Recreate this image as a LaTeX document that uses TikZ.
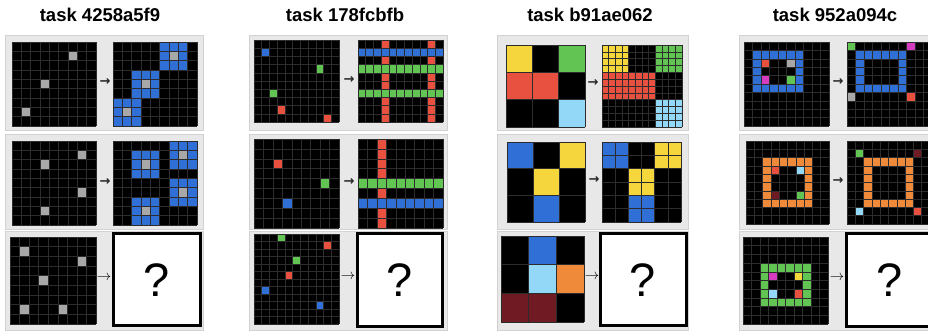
\documentclass[tikz,border=0pt]{standalone}
\usepackage{fontspec}
\newfontfamily\titlefont{Liberation Sans}
\newfontfamily\arrowfont{DejaVu Sans}
\definecolor{arcblue}{HTML}{2F6FD6}
\definecolor{arcred}{HTML}{E8503F}
\definecolor{arcgreen}{HTML}{62C452}
\definecolor{arcyellow}{HTML}{F5D63D}
\definecolor{arcgray}{HTML}{A8A8A8}
\definecolor{arclblue}{HTML}{94D8F7}
\definecolor{arcorange}{HTML}{EE8A3A}
\definecolor{arcmaroon}{HTML}{701A24}
\definecolor{arcmagenta}{HTML}{D63CC0}
\definecolor{panelfill}{HTML}{E8E8E8}
\definecolor{panelline}{HTML}{D2D2D2}
\definecolor{gridline}{HTML}{2C2C2C}
\tikzset{
  gl/.style={draw=gridline, line width=0.5pt},
  panelbox/.style={fill=panelfill, draw=panelline, line width=0.6pt},
  qbox/.style={fill=white, draw=black, line width=2.6pt},
  qmark/.style={font=\titlefont\fontsize{47}{47}\selectfont, text=black},
  tasktitle/.style={font=\titlefont\bfseries\fontsize{18.5}{19}\selectfont, text=black},
  bigarrow/.style={font=\arrowfont\bfseries\fontsize{13}{13}\selectfont, text=black!85, inner sep=0pt},
  smallarrow/.style={font=\fontsize{14}{14}\selectfont, text=black, inner sep=0pt}
}
% x y width height ncols nrows {col/row/w/h/color,...}
\newcommand{\arcgrid}[7]{%
  \pgfmathsetmacro\arccw{#3/#5}%
  \pgfmathsetmacro\arcch{#4/#6}%
  \fill[black] (#1,#2) rectangle ++(#3,#4);
  \foreach \cc/\rr/\ww/\hh/\kk in {#7}{%
    \fill[\kk] ({#1+\cc*\arccw},{#2+\rr*\arcch}) rectangle ++({\ww*\arccw},{\hh*\arcch});}
  \foreach \ii in {0,...,#5}{\draw[gl] ({#1+\ii*\arccw},#2) -- ++(0,#4);}
  \foreach \jj in {0,...,#6}{\draw[gl] (#1,{#2+\jj*\arcch}) -- ++(#3,0);}
}
\begin{document}
\begin{tikzpicture}[x=1pt,y=-1pt]
\useasboundingbox (0,0) rectangle (928,331);
\fill[white] (0,0) rectangle (928,331);

% titles
\node[tasktitle] (t1) at (100,15) {task 4258a5f9};
\node[tasktitle] (t2) at (345,15) {task 178fcbfb};
\node[tasktitle] (t3) at (590,15) {task b91ae062};
\node[tasktitle] (t4) at (835,15) {task 952a094c};

% panels
\foreach \xa/\xb in {5/203, 249/447, 497/688, 739/935}{
  \draw[panelbox] (\xa,35) rectangle (\xb,130);
  \draw[panelbox] (\xa,134) rectangle (\xb,229);
  \draw[panelbox] (\xa,231) rectangle (\xb,330);
}

% ---------------- task 4258a5f9 ----------------
\arcgrid{12}{42}{84}{84}{9}{9}{6/1/1/1/arcgray, 3/4/1/1/arcgray, 1/7/1/1/arcgray}
\arcgrid{113}{42}{84}{84}{9}{9}{5/0/3/3/arcblue, 6/1/1/1/arcgray, 2/3/3/3/arcblue, 3/4/1/1/arcgray, 0/6/3/3/arcblue, 1/7/1/1/arcgray}
\node[bigarrow] (a11) at (105,82) {→};

\arcgrid{12}{141}{84}{84}{9}{9}{7/1/1/1/arcgray, 3/2/1/1/arcgray, 7/5/1/1/arcgray, 3/7/1/1/arcgray}
\arcgrid{113}{141}{84}{84}{9}{9}{2/1/3/3/arcblue, 3/2/1/1/arcgray, 6/0/3/3/arcblue, 7/1/1/1/arcgray, 6/4/3/3/arcblue, 7/5/1/1/arcgray, 2/6/3/3/arcblue, 3/7/1/1/arcgray}
\node[bigarrow] (a12) at (105,182) {→};

\arcgrid{10}{237}{86}{87}{9}{9}{1/1/1/1/arcgray, 7/2/1/1/arcgray, 3/4/1/1/arcgray, 1/7/1/1/arcgray, 5/7/1/1/arcgray}
\draw[qbox] (113.5,233.5) rectangle (200.5,325.5);
\node[qmark] (q1) at (157,280) {?};
\node[smallarrow] (a13) at (104,278) {$\rightarrow$};

% ---------------- task 178fcbfb ----------------
\arcgrid{254}{40}{85}{82}{11}{10}{1/1/1/1/arcblue, 8/3/1/1/arcgreen, 2/6/1/1/arcgreen, 3/8/1/1/arcred, 9/9/1/1/arcred}
\arcgrid{358}{40}{85}{82}{11}{10}{3/0/1/10/arcred, 9/0/1/10/arcred, 0/1/11/1/arcblue, 0/3/11/1/arcgreen, 0/6/11/1/arcgreen}
\node[bigarrow] (a21) at (349,80) {→};

\arcgrid{254}{139}{85}{89}{9}{9}{2/2/1/1/arcred, 7/4/1/1/arcgreen, 3/6/1/1/arcblue}
\arcgrid{358}{139}{85}{89}{9}{9}{2/0/1/9/arcred, 0/4/9/1/arcgreen, 0/6/9/1/arcblue}
\node[bigarrow] (a22) at (349,182) {→};

\arcgrid{254}{234}{85}{90}{11}{12}{3/0/1/1/arcgreen, 9/1/1/1/arcred, 5/3/1/1/arcgreen, 4/5/1/1/arcred, 1/7/1/1/arcblue, 8/9/1/1/arcblue}
\draw[qbox] (357.5,233.5) rectangle (442.5,326.5);
\node[qmark] (q2) at (400,280) {?};
\node[smallarrow] (a23) at (348,277) {$\rightarrow$};

% ---------------- task b91ae062 ----------------
\arcgrid{506}{45}{79}{82}{3}{3}{0/0/1/1/arcyellow, 2/0/1/1/arcgreen, 0/1/1/1/arcred, 1/1/1/1/arcred, 2/2/1/1/arclblue}
\arcgrid{602}{45}{80}{82}{12}{12}{0/0/4/4/arcyellow, 8/0/4/4/arcgreen, 0/4/4/4/arcred, 4/4/4/4/arcred, 8/8/4/4/arclblue}
\node[bigarrow] (a31) at (593,83) {→};

\arcgrid{507}{142}{78}{80}{3}{3}{0/0/1/1/arcblue, 2/0/1/1/arcyellow, 1/1/1/1/arcyellow, 1/2/1/1/arcblue}
\arcgrid{602}{142}{79}{80}{6}{6}{0/0/2/2/arcblue, 4/0/2/2/arcyellow, 2/2/2/2/arcyellow, 2/4/2/2/arcblue}
\node[bigarrow] (a32) at (594,180) {→};

\arcgrid{501}{236}{83}{86}{3}{3}{1/0/1/1/arcblue, 1/1/1/1/arclblue, 2/1/1/1/arcorange, 0/2/1/1/arcmaroon, 1/2/1/1/arcmaroon}
\draw[qbox] (600.5,233.5) rectangle (686.5,325.5);
\node[qmark] (q3) at (643,280) {?};
\node[smallarrow] (a33) at (592,277) {$\rightarrow$};

% ---------------- task 952a094c ----------------
\arcgrid{744}{42}{85}{84}{10}{10}{1/1/6/5/arcblue, 2/2/4/3/black, 2/2/1/1/arcred, 5/2/1/1/arcgray, 2/4/1/1/arcmagenta, 5/4/1/1/arcgreen}
\arcgrid{847}{42}{85}{84}{10}{10}{1/1/6/5/arcblue, 2/2/4/3/black, 0/0/1/1/arcgreen, 7/0/1/1/arcmagenta, 0/6/1/1/arcgray, 7/6/1/1/arcred}
\node[bigarrow] (a41) at (838,82) {→};

\arcgrid{746}{141}{83}{83}{10}{10}{2/2/6/6/arcorange, 3/3/4/4/black, 3/3/1/1/arcred, 6/3/1/1/arclblue, 3/6/1/1/arcmaroon, 6/6/1/1/arcgreen}
\arcgrid{847}{141}{83}{83}{10}{10}{2/2/6/6/arcorange, 3/3/4/4/black, 1/1/1/1/arcgreen, 8/1/1/1/arcmaroon, 1/8/1/1/arclblue, 8/8/1/1/arcred}
\node[bigarrow] (a42) at (838,181) {→};

\arcgrid{743}{237}{85}{87}{10}{10}{2/3/6/5/arcgreen, 3/4/4/3/black, 3/4/1/1/arcmagenta, 6/4/1/1/arcyellow, 3/6/1/1/arclblue, 6/6/1/1/arcred}
\draw[qbox] (846.5,233.5) rectangle (935,326.5);
\node[qmark] (q4) at (890,280) {?};
\node[smallarrow] (a43) at (837,278) {$\rightarrow$};
\end{tikzpicture}
\end{document}
